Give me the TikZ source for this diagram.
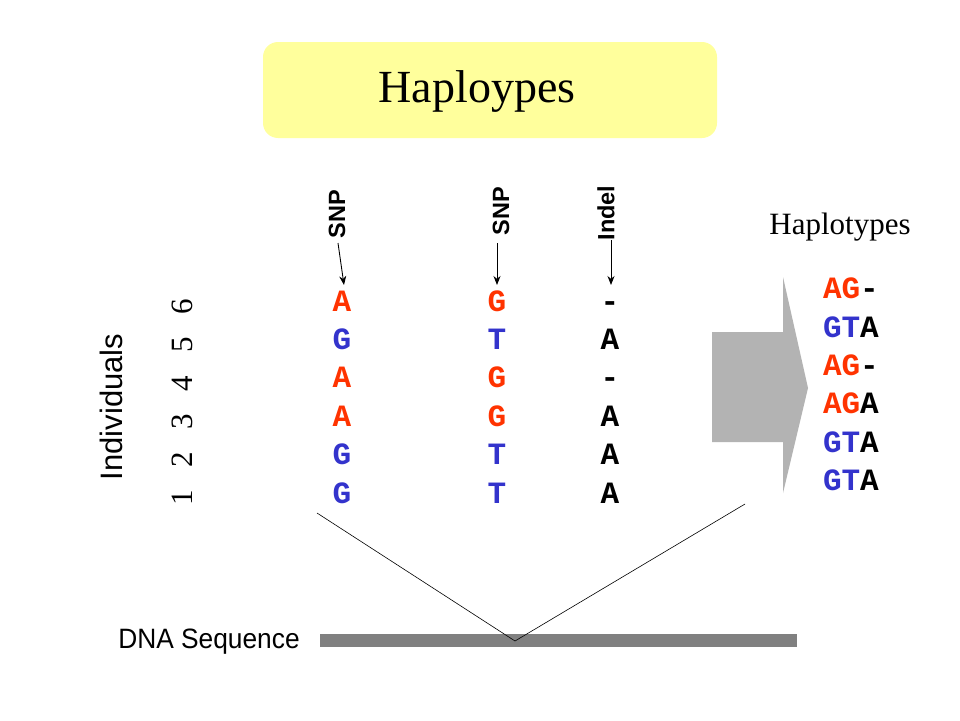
\documentclass[tikz,border=0pt]{standalone}
\usepackage{fontspec}
\setmainfont{Liberation Serif}
\setsansfont{Liberation Sans}
\setmonofont{Liberation Mono}
\usetikzlibrary{arrows.meta}
\definecolor{rd}{HTML}{FF3300}
\definecolor{bl}{HTML}{3333CC}
\definecolor{yel}{HTML}{FFFF9C}
\definecolor{arrgray}{HTML}{B3B3B3}
\definecolor{bargray}{HTML}{808080}
\begin{document}
\begin{tikzpicture}[x=1pt,y=-1pt,
  base/.style={inner sep=0pt,outer sep=0pt},
  nuc/.style={base,anchor=base,font=\fontsize{31}{31}\selectfont\ttfamily\bfseries},
  hap/.style={base,anchor=base west,font=\fontsize{31}{31}\selectfont\ttfamily\bfseries},
  lab/.style={base,rotate=90,font=\fontsize{23.5}{23.5}\selectfont\sffamily\bfseries},
  num/.style={base,rotate=90,font=\fontsize{31}{31}\selectfont},
  pointer/.style={-{Stealth[length=9pt,width=7pt]},line width=0.9pt},
  thin/.style={line width=0.6pt}]
\useasboundingbox (0,0) rectangle (960,720);
\fill[white] (0,0) rectangle (960,720);
% title
\node[base,fill=yel,rounded corners=15pt,minimum width=454pt,minimum height=96pt] (box) at (490,90) {};
\node[base,anchor=base,font=\fontsize{46}{46}\selectfont] (title) at (477,102) {Haploypes};
% labels
\node[lab] (snp1) at (337,214) {SNP};
\node[lab] (snp2) at (501,211) {SNP};
\node[lab] (indel) at (606,213) {Indel};
\coordinate (s1) at (338,243);
\coordinate (s2) at (497,243);
\coordinate (s3) at (611,240);
% columns
\foreach \i/\a/\ca/\b/\cb/\c in {0/A/rd/G/rd/-,1/G/bl/T/bl/A,2/A/rd/G/rd/-,3/A/rd/G/rd/A,4/G/bl/T/bl/A,5/G/bl/T/bl/A}{
  \node[nuc,text=\ca] (c1r\i) at (342,{311+38.4*\i}) {\a};
  \node[nuc,text=\cb] (c2r\i) at (497,{311+38.4*\i}) {\b};
  \node[nuc] (c3r\i) at (610,{311+38.4*\i}) {\c};
}
\coordinate (e1) at (344,285);
\coordinate (e2) at (497,285);
\coordinate (e3) at (611,285);
\draw[pointer] (s1) -- (e1);
\draw[pointer] (s2) -- (e2);
\draw[pointer] (s3) -- (e3);
% individuals
\node[base,rotate=90,font=\fontsize{31}{31}\selectfont\sffamily] (indiv) at (111,407) {Individuals};
\foreach \i in {1,...,6}{
  \node[num] (n\i) at (182,{498-38.2*(\i-1)}) {\i};
}
% big arrow
\fill[arrgray] (712,332) -- (783,332) -- (783,277) -- (808,388) -- (783,493) -- (783,442) -- (712,442) -- cycle;
\node[base] (bigarrow) at (760,388) {};
% haplotypes
\node[base,font=\fontsize{31}{31}\selectfont] (haptitle) at (840,227) {Haplotypes};
\node[hap] (h1) at (823,298) {\textcolor{rd}{AG}-};
\node[hap] (h2) at (823,337) {\textcolor{bl}{GT}A};
\node[hap] (h3) at (823,375) {\textcolor{rd}{AG}-};
\node[hap] (h4) at (823,413) {\textcolor{rd}{AG}A};
\node[hap] (h5) at (823,452) {\textcolor{bl}{GT}A};
\node[hap] (h6) at (823,490) {\textcolor{bl}{GT}A};
% DNA sequence
\fill[bargray] (320,634) rectangle (797,647);
\node[base,xscale=0.94,font=\fontsize{28}{28}\selectfont\sffamily] (dna) at (209,642) {DNA Sequence};
\coordinate (lt) at (317,513);
\coordinate (rt) at (745,504);
\coordinate (v) at (515,641);
\draw[thin] (lt) -- (v) -- (rt);
\end{tikzpicture}
\end{document}
